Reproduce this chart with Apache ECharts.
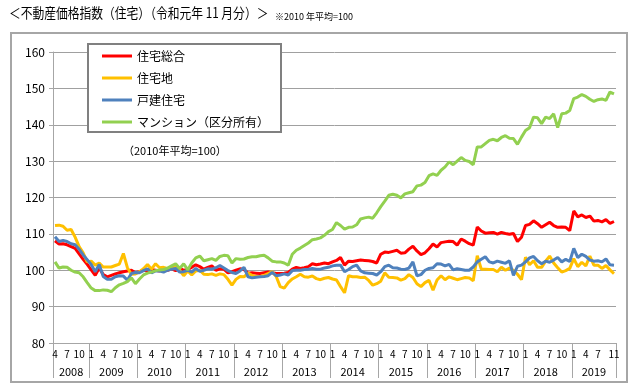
<!DOCTYPE html>
<html><head><meta charset="utf-8">
<script src="https://cdn.jsdelivr.net/npm/echarts@6/dist/echarts.min.js"></script>
<style>html,body{margin:0;padding:0;background:#fff}#c{width:640px;height:390px}</style>
</head><body><div id="c"></div>
<script>
// Monthly, 2008/4 .. 2019/11
const startYear = 2008, startMonth = 4, nMonths = 140;
const seriesNames = ['住宅総合', '住宅地', '戸建住宅', 'マンション（区分所有）'];
const housingTotal = [
108.1,107.2,107.3,107,106.5,106,104.5,103,101.6,
100.1,98.6,100.6,98.8,98.2,98.6,99,99.3,99.6,99.8,100,99.3,
99.6,100,99.8,100.2,100,99.8,100.3,100,100.4,99.9,100.6,100,
100.2,100.8,101.5,101,100.3,100.8,101.2,100,100.4,100.3,99.3,99.6,
100,100.4,100.2,99.2,99.3,99.2,99.1,99.3,99.5,99.3,99.1,99.1,
99.2,99.4,100.3,100.8,100.5,100.7,101,101.8,101.5,101.7,102,101.8,
102.3,102.7,103.5,101.4,102.5,102.4,102.6,102.8,102.7,102.6,102.4,102,
104.4,105,104.9,105.2,105.5,104.7,104.8,105.8,106.6,105.3,104.3,104.8,
105.9,107.2,106.4,107.6,107.8,108,107.9,106.9,108.6,108,107.3,106.9,
111.9,110.8,110.2,110.3,110.4,109.9,110.4,110.1,109.9,110.1,107.9,109.1,
112.3,112.6,113.6,112.8,111.8,112.5,113.2,112.3,111.8,111.9,111.8,110.9,
116.3,114.7,115.2,114.5,114.9,113.5,113.7,113.3,113.9,112.9,113.4
];
const residentialLand = [
112.3,112.4,112.1,111,111.2,109.1,106.5,104.8,102.3,
102.5,101.4,102,100.9,100.9,100.9,101.3,101.7,104.6,100.7,98.9,99,
99.6,100.4,101.6,100.3,101.8,100.7,100.8,100.5,100.6,101.1,100,98.5,
99.8,98.7,99.8,100,98.9,98.8,99,98.6,99,98.8,97.5,95.9,
97.5,98.3,98.2,99.2,98.6,98.3,98.3,98.6,99.1,99.6,98.3,95.5,
95.1,96.6,97.6,98.2,98.9,98.2,98.1,98.4,97.7,97.4,97.8,98,
97.6,97.3,95.5,93.8,98.5,98.2,98.2,98,98.1,97.2,95.9,96.3,
97,99.3,98.1,98,97.9,97.3,97.7,98.8,98,96.3,95.5,96.6,
97.2,94.5,97.3,98.5,97.4,98.2,97.8,97.4,97.7,98,97.9,97.1,
104,100.3,100.3,100.2,100.2,99.6,100.8,100,100.6,100,98.9,97.4,
103.6,101.5,102.6,100.8,100.8,102.5,103.9,102,100.7,99.5,99.9,100.5,
103.2,101,102.2,101.2,103.9,101.4,101.4,100.5,101.3,100.1,99.1
];
const detachedHouse = [
109.2,107.9,108.2,107.9,107.3,107,105.8,104.2,102.9,
101.6,99.6,101.6,98.3,97.5,97.5,98.2,98.5,98.4,97.3,99.1,99.4,
99.3,99.9,100.4,99.3,99.8,99.8,99.5,100,100.3,100.5,99.5,99.6,
100,99.5,100.5,99.7,100,100.4,100.3,100.7,101.3,100.6,99.9,99.4,
99.1,99.8,100.8,98.2,97.9,98.1,98.2,98.3,98.5,99.4,98.5,98.7,
99,98.7,99.9,100,100,100.2,100.3,100.5,100.3,100.3,100.6,100.8,
101.2,101.4,101.4,99.6,100.2,101,101.4,99.8,99.3,99.2,99.1,98.7,
99.6,101,101.4,100.7,100.6,100.3,100.2,100.6,102.3,98.5,98.8,100,
100.5,100.7,101.8,101.7,101.2,101.6,100.1,100.4,100.2,100,100,100.9,
102.3,103,103.7,102.3,102,102.5,102.2,101.9,102.6,98.6,101.1,101.4,
102.3,103.4,103.8,102.6,101.8,102.5,102.2,102.8,103.5,102.3,103,102.4,
106,103.5,104.4,103.8,102.8,102.5,102.6,102.3,103.1,101.5,101.4
];
const condominium = [
102.3,100.6,100.9,100.8,100,99.5,99.3,98.2,96.6,
95.1,94.4,94.4,94.6,94.5,94.1,95.2,96,96.4,96.9,97.9,96.3,
97.6,98.7,99.2,99.5,99.9,100.1,100.2,100.6,101.2,101.8,100.5,101.8,
100.1,102,103.4,103.9,102.6,102.9,103.2,102.7,103.8,104.1,104,102,
103.2,103,103.1,103.5,103.7,103.7,104,104.1,103.4,102.5,102.3,102.3,
102,101.4,104.4,105.5,106.1,106.8,107.5,108.4,108.6,108.9,109.6,110.6,
111.2,113.1,112.3,111.3,111.8,111.9,112.5,114.1,114.4,114.6,114.3,115.8,
117.5,119,120.6,120.9,120.6,119.9,121,121.3,121.6,123.2,123.4,124.1,
126,126.5,126.1,127.5,128.4,129.8,129,130,131,130.2,129.9,129,
133.9,133.9,134.8,135.7,136,135.6,136.5,137,136.3,136.2,134.6,136.6,
138.4,139.2,142.1,141.9,140.3,142.1,141.7,143,139.2,143,143.2,143.9,
147.2,147.6,148.3,147.8,147,146.4,146.9,147.1,146.7,149,148.5
];
const yTicks = {min: 80, max: 160, interval: 10};

const categories = [], monthOf = [], yearOf = [];
for (let i = 0; i < nMonths; i++) {
  const t = startMonth - 1 + i;
  const y = startYear + Math.floor(t / 12), m = t % 12 + 1;
  categories.push(y + '/' + m); monthOf.push(m); yearOf.push(y);
}
const last = nMonths - 1;
const yearMid = {};
(function(){
  const blocks = {};
  yearOf.forEach((y, i) => { (blocks[y] = blocks[y] || []).push(i); });
  Object.keys(blocks).forEach(y => { const b = blocks[y]; yearMid[b[Math.floor((b.length - 1) / 2)]] = y; });
})();

const colors = ['#FF0000', '#FFC000', '#4F81BD', '#92D050'];
const dataSets = [housingTotal, residentialLand, detachedHouse, condominium];
const FONT = '"Noto Sans CJK JP", "Noto Sans", sans-serif';

const chart = echarts.init(document.getElementById('c'), null, {renderer: 'canvas'});
chart.setOption({
  animation: false,
  textStyle: {fontFamily: FONT},
  title: [
    {text: '※2010 年平均=100', left: 275, top: 12, padding: 0,
     textStyle: {fontSize: 9, fontWeight: 'normal', color: '#000', fontFamily: FONT}},
    {text: '（2010年平均=100）', left: 118, top: 140,
     textStyle: {fontSize: 11, fontWeight: 'normal', color: '#000', fontFamily: FONT}}
  ],
  graphic: [
    {type: 'rect', shape: {x: 11, y: 33, width: 616, height: 349},
     style: {fill: 'none', stroke: '#a6a6a6', lineWidth: 2}, silent: true, z: -1},
    {type: 'text', x: 9, y: 6, scaleX: 0.84,
     style: {text: '＜不動産価格指数（住宅）（令和元年 11 月分）＞', fill: '#000',
       font: 'normal 14px "Noto Sans CJK JP", sans-serif'}}
  ],
  legend: {
    orient: 'vertical', left: 88, top: 44,
    data: seriesNames, icon: 'rect', itemWidth: 30, itemHeight: 3, itemGap: 8,
    padding: [5, 12, 3, 14], borderColor: '#808080', borderWidth: 2, backgroundColor: '#fff',
    textStyle: {fontSize: 12, color: '#000', lineHeight: 14, fontFamily: FONT}
  },
  grid: {left: 53, right: 24, top: 52, bottom: 47, containLabel: false},
  xAxis: [{
    type: 'category', data: categories, boundaryGap: true,
    axisLine: {lineStyle: {color: '#a6a6a6', width: 1}},
    axisTick: {show: true, length: 35, lineStyle: {color: '#a6a6a6'},
      interval: (i) => monthOf[i] === 1 || i === 0},
    axisLabel: {fontSize: 10, color: '#000', margin: 6,
      interval: (i) => i === last || ([1, 4, 7, 10].indexOf(monthOf[i]) >= 0 && i < last - 1),
      formatter: (v, i) => String(monthOf[i])}
  }, {
    type: 'category', data: categories, boundaryGap: true, position: 'bottom',
    axisLine: {show: false}, axisTick: {show: false},
    axisLabel: {fontSize: 11, color: '#000', margin: 23,
      interval: (i) => yearMid[i] !== undefined,
      formatter: (v, i) => String(yearOf[i])}
  }],
  yAxis: {
    type: 'value', min: yTicks.min, max: yTicks.max, interval: yTicks.interval,
    axisLine: {show: true, lineStyle: {color: '#a6a6a6'}},
    axisTick: {show: true, length: 4, lineStyle: {color: '#a6a6a6'}},
    axisLabel: {fontSize: 12, color: '#000', margin: 8},
    splitLine: {lineStyle: {color: '#a0a0a0', width: 1}}
  },
  series: seriesNames.map((n, k) => ({
    name: n, type: 'line', data: dataSets[k], symbol: 'none', smooth: false,
    color: colors[k], lineStyle: {width: 3, color: colors[k]}, z: 2 + k
  }))
});
</script></body></html>
